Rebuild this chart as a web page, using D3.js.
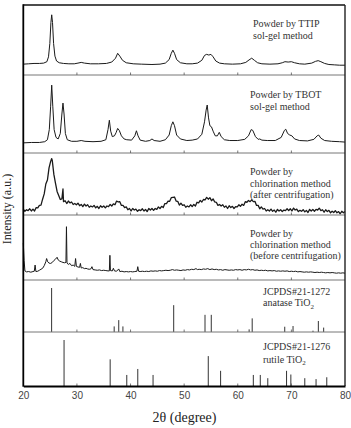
<!DOCTYPE html>
<html><head><meta charset="utf-8">
<script src="https://cdn.jsdelivr.net/npm/d3@7"></script>
<style>html,body{margin:0;padding:0;background:#fff;} svg{display:block}</style>
</head><body><svg id="c" width="351" height="428"></svg>
<script>
// ---------- DATA ----------
const xTicks = [20, 30, 40, 50, 60, 70, 80];

// Powder by TTIP sol-gel method  [2theta, intensity a.u.]
const ttip = [[20,15.5],[21,16],[22,16.5],[23,16.5],[23.8,17],[24.4,19],[24.7,26],[24.95,45],[25.15,75],[25.3,86],[25.45,75],[25.65,45],[25.9,27],[26.2,20],[26.7,17.5],[27.5,16.5],[28.5,16],[29.5,16],[30.2,17],[30.8,18],[31.4,17],[32.5,16],[34,16],[35.5,16.5],[36.5,18.5],[37.2,24],[37.6,31],[38.0,27],[38.5,21],[39.2,17.5],[40.5,16],[42,15.5],[44,15],[45.5,15.5],[46.5,17],[47.2,22],[47.6,31],[47.9,35.5],[48.2,31],[48.6,22],[49.3,17.5],[50.5,16],[51.5,16],[52.5,17],[53.3,21],[53.8,28],[54.2,29.5],[54.6,28.5],[55.0,29.5],[55.4,26],[55.9,20],[56.6,17],[57.5,16],[59,15.5],[60.5,16],[61.5,18],[62.1,21.5],[62.6,24],[63.1,21],[63.7,17.5],[64.5,16],[66,15.5],[67.5,16],[68.3,17.5],[68.8,19],[69.4,18.5],[70.0,19],[70.6,17.5],[71.5,16],[72.5,15.5],[73.8,17],[74.5,19.5],[75.0,20.5],[75.5,19],[76.2,16.5],[77,15],[78,14.5],[79,14],[80,14]];

// Powder by TBOT sol-gel method
const tbot = [[20,13],[21.5,13.5],[23,13.5],[24,14.5],[24.5,17],[24.85,30],[25.1,60],[25.3,87],[25.5,60],[25.75,30],[26.1,20],[26.5,18],[26.9,25],[27.2,50],[27.4,64],[27.6,50],[27.85,25],[28.2,17],[29,15],[30,15],[30.8,16],[31.5,15],[33,14.5],[34.5,15],[35.4,17],[35.8,30],[36.05,42],[36.3,28],[36.6,21],[37.0,22],[37.3,26],[37.6,31.5],[37.9,29],[38.3,22],[38.8,18],[39.3,17],[40.2,16.5],[40.8,22],[41.1,28.5],[41.4,22],[41.8,16.5],[42.8,15],[43.6,16],[44.0,18],[44.4,16],[45.5,15],[46.5,17],[47.2,23],[47.6,35],[47.9,40],[48.2,35],[48.6,23],[49.3,18],[50.5,16],[51.5,16.5],[52.5,18],[53.3,24],[53.8,40],[54.1,55],[54.3,61.5],[54.55,45],[54.8,35],[55.1,33.5],[55.4,28],[55.8,22],[56.2,22],[56.55,26.5],[56.9,21],[57.5,17],[58.5,16],[60,16],[61.3,17.5],[62.0,22],[62.5,30],[62.8,29],[63.3,21],[63.8,17.5],[64.1,18],[64.5,16.5],[65.5,16],[67,16],[68.1,20],[68.7,29],[68.95,30.5],[69.3,25],[69.7,23],[70.1,22],[70.6,18],[71.5,16],[73,15.5],[74.2,17.5],[74.8,22],[75.1,23],[75.5,19],[76.2,16],[77.5,15],[79,14.5],[80,14]];

// Powder by chlorination method (after centrifugation)
const chlorAfter = [[20.0,9.5],[20.3,6],[20.6,8.5],[20.9,7],[21.2,10],[21.5,6.5],[21.8,9.5],[22.1,6.5],[22.4,12],[22.7,11.5],[23.0,15.5],[23.3,16],[23.6,25.5],[23.9,34],[24.2,50],[24.5,56.5],[24.8,76],[25.1,86.5],[25.3,91],[25.4,88],[25.7,65.5],[26.0,51.5],[26.3,38],[26.6,31.5],[26.9,25],[27.2,26],[27.4,42],[27.5,21.5],[27.8,23],[28.1,18.5],[28.4,22.5],[28.7,19.5],[29.0,21],[29.3,17],[29.6,18.5],[29.9,16.5],[30.2,19],[30.5,15],[30.8,17],[31.1,13.5],[31.4,17.5],[31.7,14.5],[32.0,16.5],[32.3,12.5],[32.6,14.5],[32.9,13],[33.2,15.5],[33.5,11.5],[33.8,14],[34.1,10.5],[34.4,15],[34.7,12.5],[35.0,14.5],[35.3,11.5],[35.6,14.5],[35.9,13.5],[36.2,17],[36.5,14.5],[36.8,18],[37.1,16.5],[37.4,22.5],[37.7,21],[38.0,21.5],[38.3,15.5],[38.6,15.5],[38.9,12],[39.2,13],[39.5,8.5],[39.8,10.5],[40.1,6.5],[40.4,10.5],[40.7,8],[41.0,9.5],[41.3,6],[41.6,8.5],[41.9,7],[42.2,10],[42.5,6.5],[42.8,9],[43.1,5.5],[43.4,10.5],[43.7,8],[44.0,10.5],[44.3,7.5],[44.6,10.5],[44.9,9],[45.2,13],[45.5,10.5],[45.8,14],[46.1,12],[46.4,18.5],[46.7,18.5],[47.0,22.5],[47.3,22],[47.6,28],[47.9,28.5],[48.2,29],[48.5,22.5],[48.8,22],[49.1,16],[49.4,19],[49.7,15.5],[50.0,16.5],[50.3,12.5],[50.6,14.5],[50.9,13],[51.2,16.5],[51.5,13.5],[51.8,17],[52.1,14.5],[52.4,20.5],[52.7,19.5],[53.0,23.5],[53.3,21],[53.6,25],[53.9,24.5],[54.2,28.5],[54.5,25.5],[54.8,28],[55.1,23],[55.4,26],[55.7,21],[56.0,20.5],[56.3,15.5],[56.6,17],[56.9,14.5],[57.2,16.5],[57.5,12.5],[57.8,14.5],[58.1,10.5],[58.4,15],[58.7,12],[59.0,14],[59.3,10.5],[59.6,13.5],[59.9,13],[60.2,16.5],[60.5,14],[60.8,17.5],[61.1,15.5],[61.4,21.5],[61.7,20.5],[62.0,23.5],[62.3,21.5],[62.6,24.5],[62.9,21.5],[63.2,22],[63.5,15.5],[63.8,15.5],[64.1,10],[64.4,13],[64.7,9.5],[65.0,10.5],[65.3,6.5],[65.6,8.5],[65.9,6.5],[66.2,9.5],[66.5,6],[66.8,8],[67.1,4.5],[67.4,9],[67.7,6.5],[68.0,8.5],[68.3,5.5],[68.6,8],[68.9,7],[69.2,10],[69.5,7],[69.8,10],[70.1,6.5],[70.4,11],[70.7,8],[71.0,9.5],[71.3,5.5],[71.6,7.5],[71.9,6],[72.2,8.5],[72.5,5],[72.8,7.5],[73.1,4],[73.4,9],[73.7,6.5],[74.0,9],[74.3,6],[74.6,9],[74.9,8],[75.2,11],[75.5,7],[75.8,8.5],[76.1,4.5],[76.4,8.5],[76.7,5.5],[77.0,7.5],[77.3,3.5],[77.6,6],[77.9,4],[78.2,7],[78.5,3.5],[78.8,5.5],[79.1,2],[79.4,6],[79.7,3.5],[80.0,5.5]];

// Powder by chlorination method (before centrifugation)
const chlorBefore = [[20.0,57],[20.15,30],[20.3,14],[20.6,12.5],[21.0,13],[21.4,12],[21.8,13],[22.05,13.5],[22.2,23],[22.35,13],[22.7,13.5],[23.0,15],[23.3,16.5],[23.6,18],[23.9,22],[24.2,28],[24.35,33],[24.55,28],[24.8,26],[25.1,25.5],[25.4,27],[25.7,30],[26.0,32],[26.3,35],[26.5,31],[26.8,29],[27.1,28],[27.4,27],[27.7,26.5],[27.95,27],[28.05,82],[28.15,26],[28.4,24],[28.7,25.5],[29.0,22],[29.3,23],[29.6,21],[29.75,33],[29.9,21],[30.2,20],[30.5,19.5],[30.65,25.5],[30.8,18.5],[31.1,19],[31.4,17.5],[31.7,18],[32.0,17],[32.3,16.5],[32.6,17],[32.8,20.5],[33.0,16],[33.4,15.5],[33.8,15],[34.2,15.5],[34.6,14.5],[35.0,15],[35.4,14.5],[35.8,14],[36.05,14],[36.15,38],[36.25,14.5],[36.6,14],[36.8,18],[37.0,14],[37.4,13.5],[37.8,17],[38.0,13],[38.4,13.5],[38.8,12.5],[39.2,13],[39.6,12.5],[40.0,13],[40.4,12.5],[40.8,13],[41.2,13.5],[41.35,20.5],[41.5,13.5],[41.8,13],[42.2,13.5],[42.6,13],[43.0,13.5],[43.4,13],[43.8,14],[44.2,13.5],[44.6,14],[45.0,13.5],[45.4,14.5],[45.8,14],[46.2,14.5],[46.6,15],[47.0,14.5],[47.4,15],[47.8,16],[48.2,15],[48.6,15.5],[49.0,15],[49.4,14.5],[49.8,15.5],[50.2,15],[50.6,16],[51.0,15.5],[51.4,16.5],[51.8,16],[52.2,17.5],[52.5,16],[52.8,16.5],[53.2,16],[53.6,17],[54.0,16.5],[54.4,17.5],[54.8,16],[55.2,17],[55.6,16],[56.0,16.5],[56.4,15.5],[56.8,16],[57.2,15],[57.6,16],[58.0,15.5],[58.4,15],[58.8,15.5],[59.2,15],[59.6,16],[60.0,15.5],[60.4,16],[60.8,15],[61.2,16],[61.6,15.5],[62.0,16.5],[62.4,15.5],[62.8,16],[63.2,15],[63.6,15.5],[64.0,14.5],[64.4,15],[64.8,14.5],[65.2,15],[65.6,14],[66.0,14.5],[66.4,14],[66.8,14.5],[67.2,13.5],[67.6,14],[68.0,13.5],[68.4,14],[68.8,13.5],[69.2,14],[69.6,13],[70.0,13.5],[70.4,13],[70.8,13.5],[71.2,12.5],[71.6,13],[72.0,12.5],[72.4,12],[72.8,12.5],[73.2,12],[73.6,12.5],[74.0,12],[74.4,11.5],[74.8,12],[75.2,11.5],[75.6,12],[76.0,11.5],[76.4,11],[76.8,11.5],[77.2,11],[77.6,11.5],[78.0,11],[78.4,10.5],[78.8,11],[79.2,10.5],[79.6,11],[80.0,10.5]];

// JCPDS #21-1272 anatase TiO2 reference lines
const anataseTheta = [25.28, 36.95, 37.80, 38.58, 48.05, 53.89, 55.06, 62.12, 62.69, 68.76, 70.31, 74.03, 75.03, 76.02];
const anataseI     = [100, 12.7, 27, 12.7, 61, 39, 39, 6, 31, 12, 13.6, 3, 25, 10];
// JCPDS #21-1276 rutile TiO2 reference lines
const rutileTheta = [27.6, 36.2, 39.3, 41.35, 44.2, 54.5, 56.8, 62.9, 64.2, 65.6, 69.1, 69.9, 72.5, 74.6, 76.6];
const rutileI     = [100, 58, 24, 37, 24, 65, 33, 24, 24, 17, 33, 25, 17, 15, 19];

const labels = [
  ["Powder by TTIP", "sol-gel method"],
  ["Powder by TBOT", "sol-gel method"],
  ["Powder by", "chlorination  method", "(after centrifugation)"],
  ["Powder by", "chlorination  method", "(before centrifugation)"],
  ["JCPDS#21-1272", "anatase TiO|2"],
  ["JCPDS#21-1276", "rutile TiO|2"]
];
const xTitle = "2θ (degree)";
const yTitle = "Intensity (a.u.)";

// ---------- LAYOUT ----------
const L = 23.3, R = 345;
const serif = "'Liberation Serif', 'Times New Roman', serif";
const panels = [
  {top: 5,   bottom: 75,  dmax: 100,   type: "line", data: ttip,  lx: 253, ly: 27,  lh: 11.5},
  {top: 75,  bottom: 153, dmax: 100,   type: "line", data: tbot,  lx: 250, ly: 98,  lh: 11.5},
  {top: 153, bottom: 215, dmax: 100,   type: "line", data: chlorAfter, lx: 250, ly: 175, lh: 11.6, w: 1.3},
  {top: 215, bottom: 280, dmax: 100,   type: "line", data: chlorBefore, lx: 250, ly: 236.5, lh: 11, w: 1},
  {top: 280, bottom: 332, dmax: 118.2, type: "stick", theta: anataseTheta, inten: anataseI, lx: 263, ly: 295, lh: 11},
  {top: 332, bottom: 386, dmax: 117.4, type: "stick", theta: rutileTheta, inten: rutileI, lx: 263, ly: 350, lh: 12.5}
];

const svg = d3.select("#c");
const x = d3.scaleLinear().domain([20, 80]).range([L, R]);

panels.forEach((p, i) => {
  const y = d3.scaleLinear().domain([0, p.dmax]).range([p.bottom, p.top]);
  const g = svg.append("g");
  if (p.type === "line") {
    g.append("path").datum(p.data)
      .attr("fill", "none").attr("stroke", "#1a1a1a")
      .attr("stroke-width", p.w || 1).attr("stroke-linejoin", "round")
      .attr("d", d3.line().x(d => x(d[0])).y(d => y(d[1])));
  } else {
    g.selectAll("line").data(p.theta).join("line")
      .attr("x1", d => x(d)).attr("x2", d => x(d))
      .attr("y1", y(0)).attr("y2", (d, k) => y(p.inten[k]))
      .attr("stroke", "#333").attr("stroke-width", 1);
  }
  // label
  const t = g.append("text").attr("font-family", serif)
    .attr("font-size", 10).attr("fill", "#333");
  labels[i].forEach((s, k) => {
    const parts = s.split("|");
    t.append("tspan").attr("x", p.lx).attr("y", p.ly + k * p.lh).text(parts[0]);
    if (parts[1]) {
      t.append("tspan").attr("font-size", 7).attr("dy", 2.5).text(parts[1]);
    }
  });
  // panel separator (bottom) with inward ticks
  if (i < panels.length - 1) {
    svg.append("line").attr("x1", L).attr("x2", R).attr("y1", p.bottom).attr("y2", p.bottom)
      .attr("stroke", "#777").attr("stroke-width", 1);
  }
  svg.append("g").selectAll("line").data(xTicks.slice(1, -1)).join("line")
    .attr("x1", d => x(d)).attr("x2", d => x(d))
    .attr("y1", p.bottom).attr("y2", p.bottom - 2.5)
    .attr("stroke", "#555").attr("stroke-width", 0.8);
});

// frame
svg.append("line").attr("x1", L).attr("x2", R).attr("y1", 5).attr("y2", 5).attr("stroke", "#111").attr("stroke-width", 1.6);
svg.append("line").attr("x1", R).attr("x2", R).attr("y1", 5).attr("y2", 386).attr("stroke", "#222").attr("stroke-width", 1.4);
svg.append("line").attr("x1", L).attr("x2", L).attr("y1", 4.2).attr("y2", 386.8).attr("stroke", "#000").attr("stroke-width", 1.8);

// x axis
const ax = svg.append("g").attr("transform", "translate(0,386)")
  .call(d3.axisBottom(x).tickValues(xTicks).tickSize(0).tickPadding(6).tickFormat(d3.format("d")));
ax.select(".domain").attr("stroke", "#000").attr("stroke-width", 1.8);
ax.selectAll("text").attr("font-family", "'Liberation Sans', Arial, sans-serif")
  .attr("font-size", 10).attr("fill", "#444");

svg.append("text").attr("x", 184.5).attr("y", 422)
  .attr("text-anchor", "middle").attr("font-family", serif)
  .attr("font-size", 14).attr("fill", "#222").text(xTitle);

svg.append("text").attr("transform", "translate(11,209) rotate(-90)")
  .attr("text-anchor", "middle").attr("font-family", serif)
  .attr("font-size", 12).attr("fill", "#222").text(yTitle);
</script>
</body></html>
